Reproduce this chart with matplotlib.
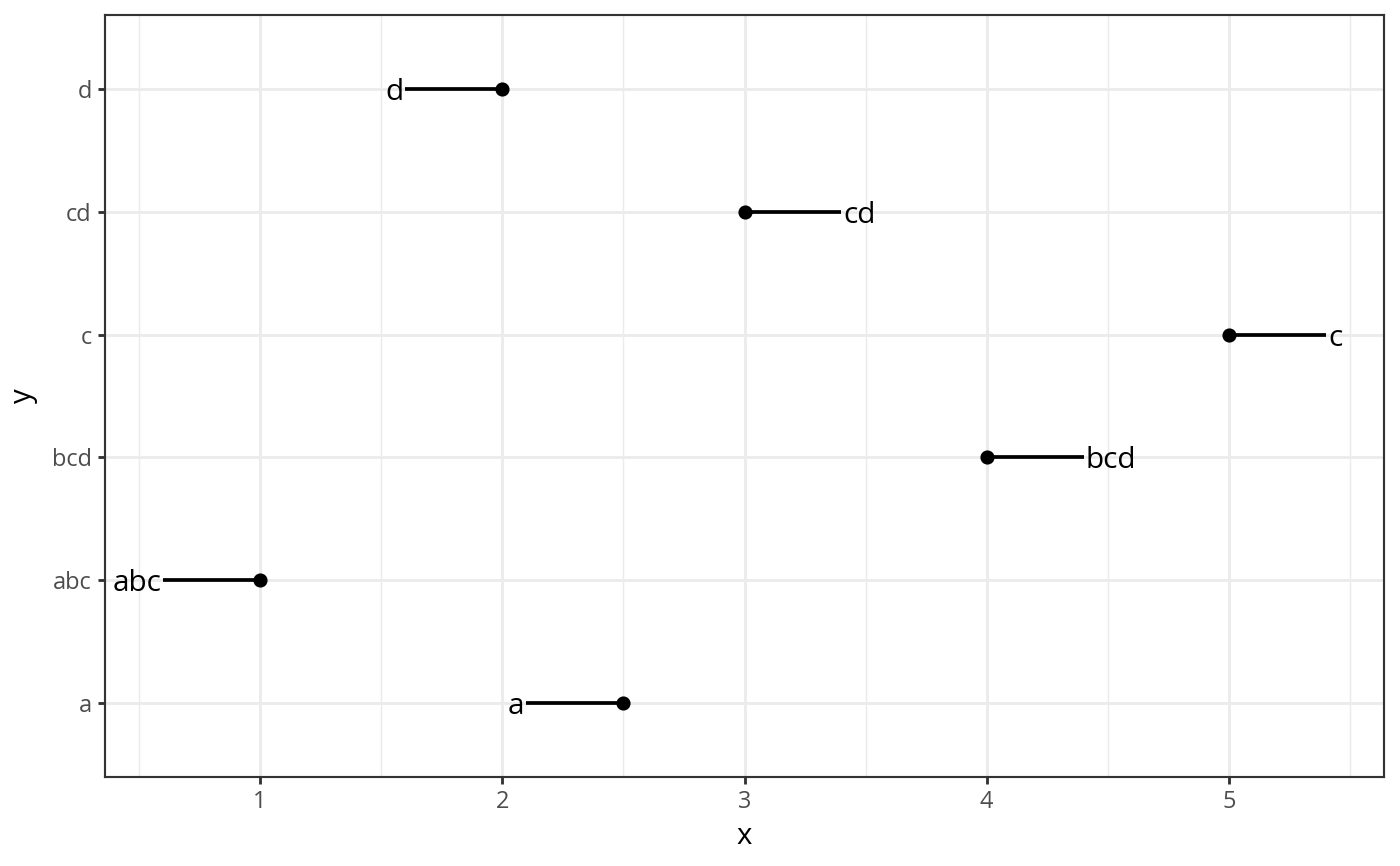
import matplotlib
matplotlib.use("Agg")
import matplotlib.pyplot as plt
from matplotlib.ticker import MultipleLocator

plt.rcParams['font.family'] = ['Open Sans', 'DejaVu Sans']

# data
categories = ['a', 'abc', 'bcd', 'c', 'cd', 'd']
labels = ['a', 'abc', 'bcd', 'c', 'cd', 'd']
x_vals = [2.5, 1, 4, 5, 3, 2]
x_ends = [2.1, 0.6, 4.4, 5.4, 3.4, 1.6]

dpi = 192
fig = plt.figure(figsize=(1400 / dpi, 866 / dpi), dpi=dpi)
ax = fig.add_axes([105 / 1400, 89 / 866, 1279 / 1400, 762 / 866])

ypos = {c: i + 1 for i, c in enumerate(categories)}

for cat, lab, x0, x1 in zip(categories, labels, x_vals, x_ends):
    y = ypos[cat]
    ax.plot([x0, x1], [y, y], color='black', lw=1.4, solid_capstyle='butt', zorder=3)
    ax.plot(x0, y, 'o', color='black', ms=4.3, zorder=4)
    if x1 < x0:
        ax.annotate(lab, (x1, y), xytext=(-0.8, 0), textcoords='offset points',
                    ha='right', va='center_baseline', fontsize=11.2, color='black')
    else:
        ax.annotate(lab, (x1, y), xytext=(0.8, 0), textcoords='offset points',
                    ha='left', va='center_baseline', fontsize=11.2, color='black')

xmin, xmax = min(x_ends + x_vals), max(x_ends + x_vals)
pad = (xmax - xmin) * 0.05
ax.set_xlim(xmin - pad, xmax + pad)
ax.set_ylim(0.4, len(categories) + 0.6)

ax.set_xticks([1, 2, 3, 4, 5])
ax.xaxis.set_minor_locator(MultipleLocator(0.5))
ax.set_yticks(list(ypos.values()))
ax.set_yticklabels(categories)

ax.grid(True, which='major', color='#EBEBEB', lw=1.07, zorder=0)
ax.grid(True, which='minor', axis='x', color='#EBEBEB', lw=0.53, zorder=0)
ax.set_axisbelow(True)
ax.tick_params(which='minor', length=0)
ax.tick_params(which='major', length=2.75, width=1.07, color='#333333',
               labelsize=8.8, labelcolor='#4D4D4D', pad=2.2)

for sp in ax.spines.values():
    sp.set_color('#333333')
    sp.set_linewidth(0.8)

ax.set_xlabel('x', fontsize=11, labelpad=3)
ax.set_ylabel('y', fontsize=11, labelpad=5)

fig.savefig('out.png', dpi=dpi)
